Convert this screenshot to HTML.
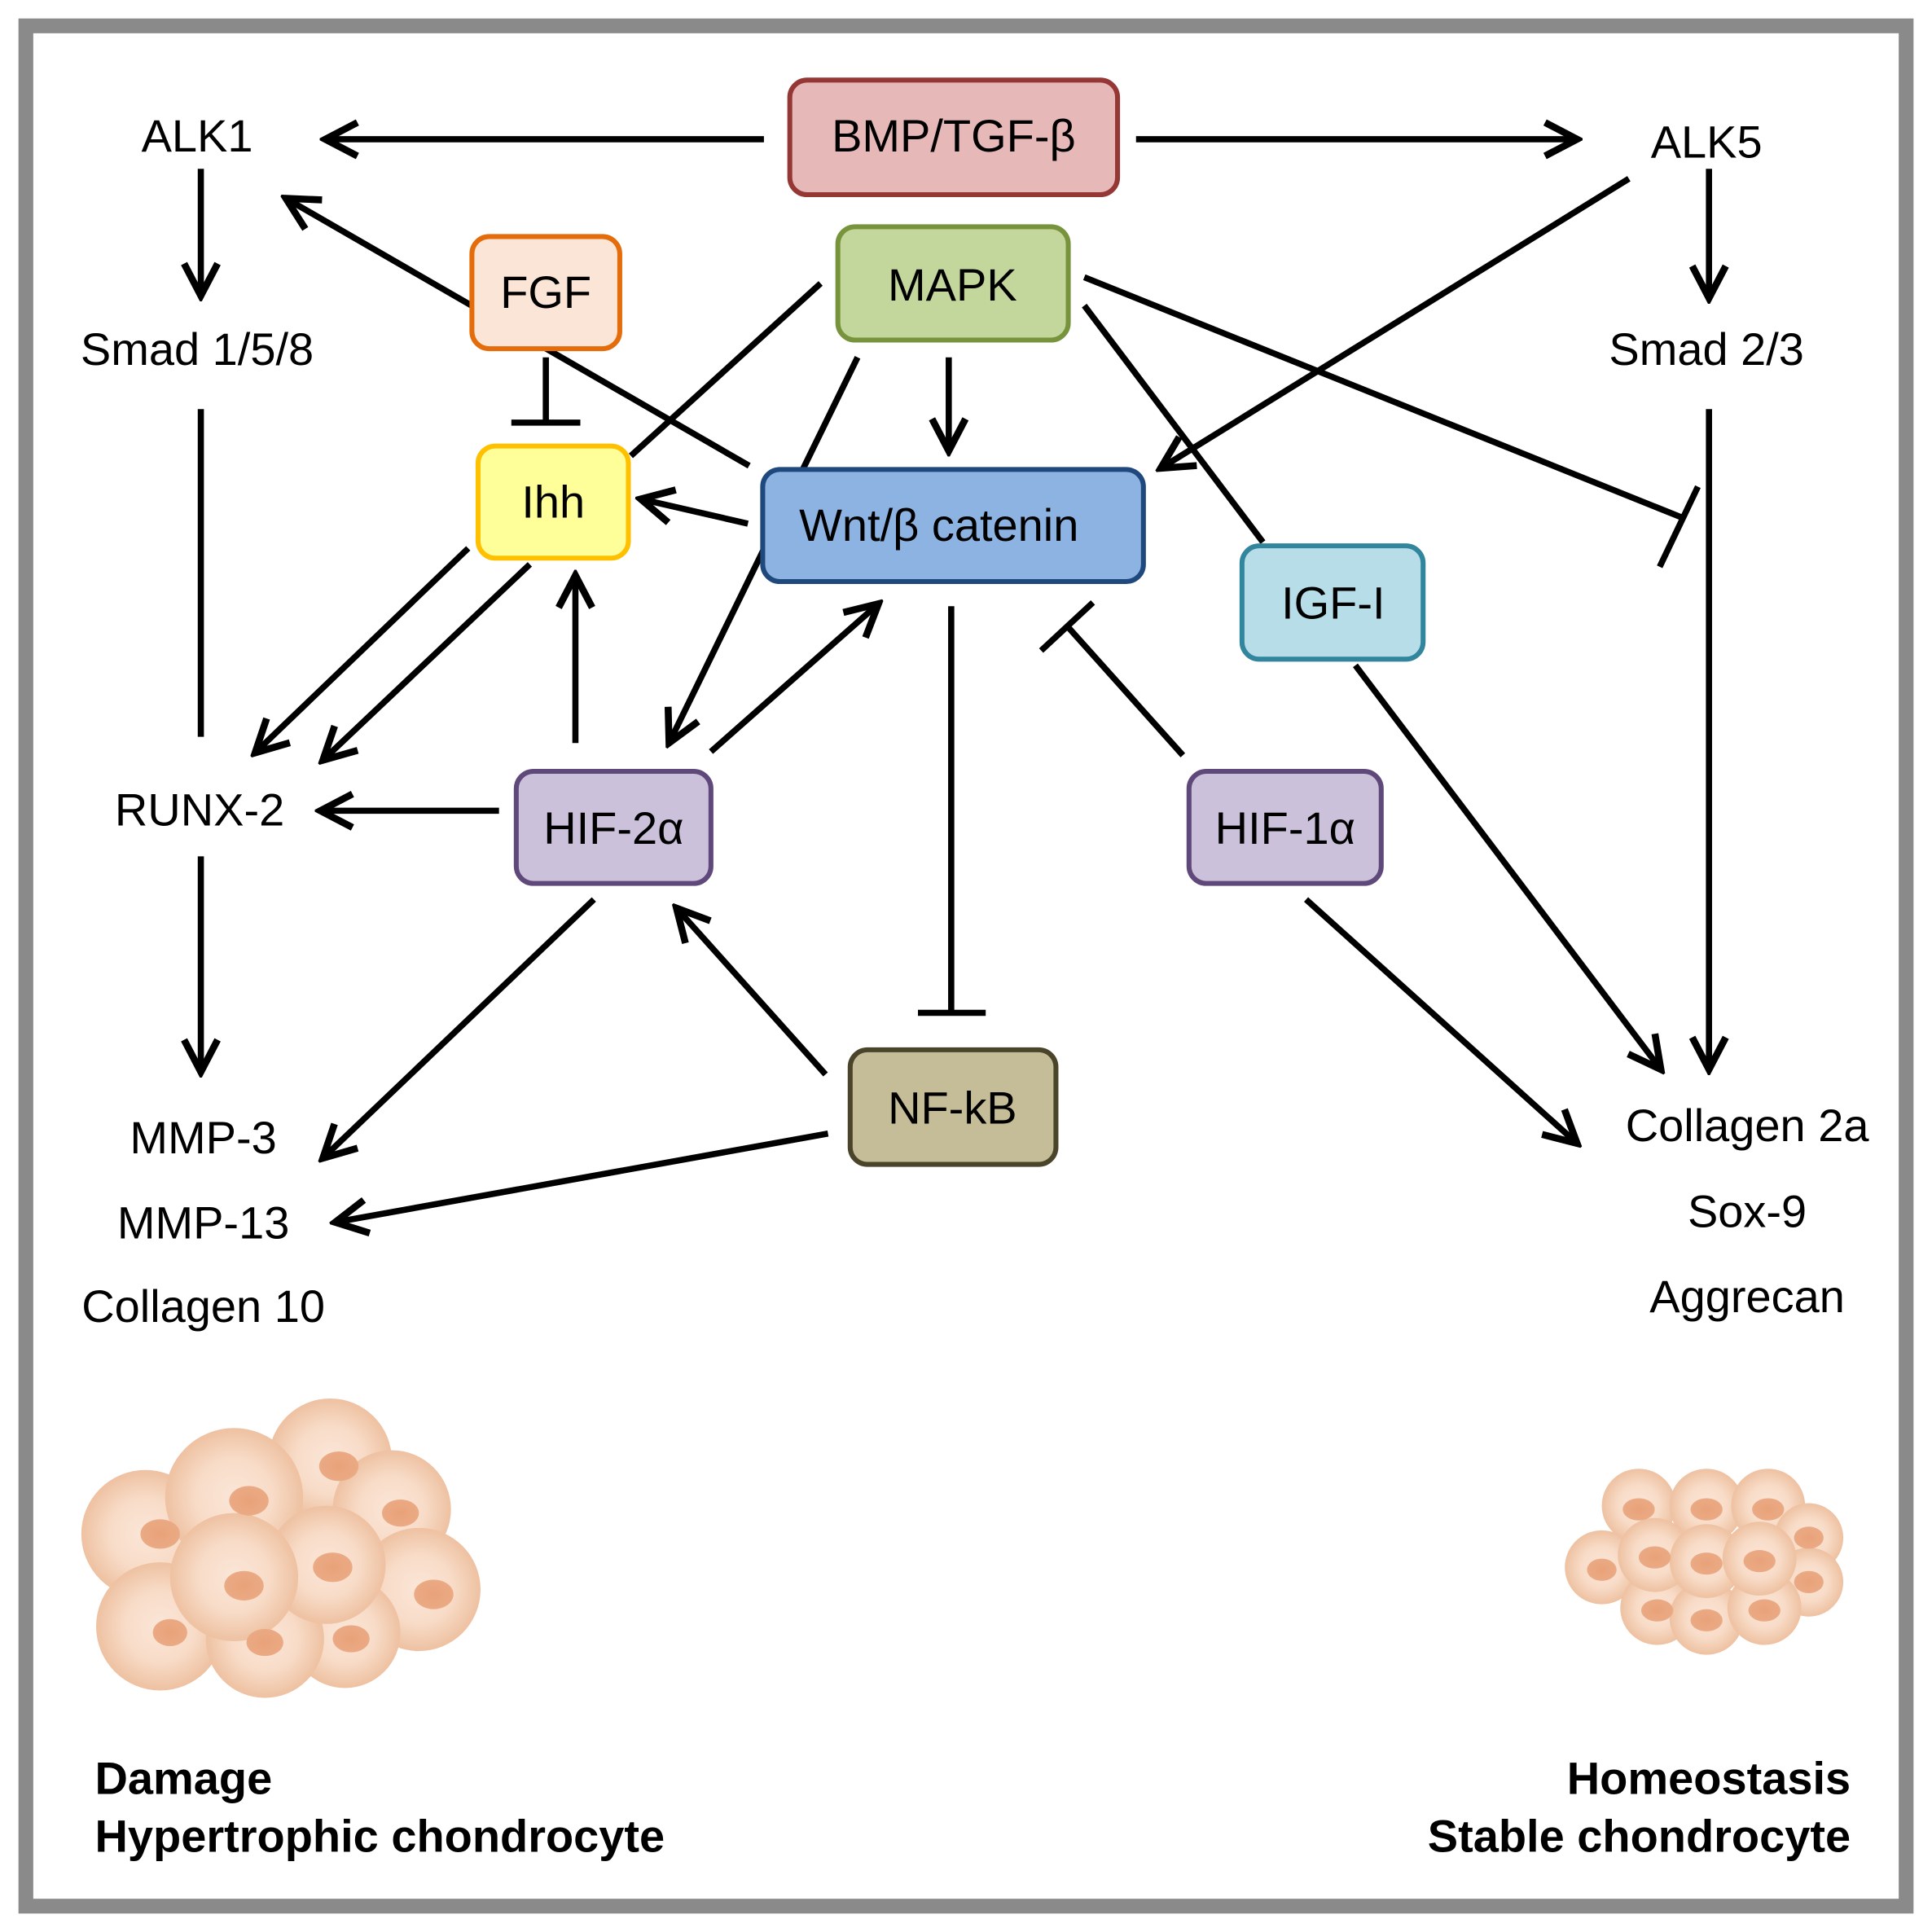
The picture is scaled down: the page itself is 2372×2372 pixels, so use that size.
<!DOCTYPE html>
<html><head><meta charset="utf-8"><style>html,body{margin:0;padding:0;background:#fff}svg{display:block}</style></head>
<body>
<svg width="2372" height="2372" viewBox="0 0 1568 1568" xmlns="http://www.w3.org/2000/svg" font-family="Liberation Sans, DejaVu Sans, sans-serif">
<defs>
<marker id="a" markerUnits="userSpaceOnUse" markerWidth="34" markerHeight="34" viewBox="0 0 30 30" refX="26" refY="15" orient="auto">
<path d="M3,3 L26,15 L3,27" fill="none" stroke="#000" stroke-width="5" stroke-linejoin="miter"/></marker>
<radialGradient id="c" cx="50%" cy="50%" r="50%"><stop offset="0" stop-color="#fbe6d8"/><stop offset="0.55" stop-color="#f8dcc8"/><stop offset="1" stop-color="#eec1a1"/></radialGradient>
<radialGradient id="n"><stop offset="0" stop-color="#e9a27a"/><stop offset="1" stop-color="#eaaa84"/></radialGradient>
</defs>
<rect x="0" y="0" width="1568" height="1568" fill="#fff"/>
<rect x="21" y="21" width="1526" height="1526" fill="#fff" stroke="#8a8a8a" stroke-width="12"/>
<g stroke="#000" stroke-width="5" fill="none">
<line x1="620" y1="113" x2="264" y2="113" marker-end="url(#a)"/>
<line x1="922" y1="113" x2="1280" y2="113" marker-end="url(#a)"/>
<line x1="163" y1="137" x2="163" y2="240" marker-end="url(#a)"/>
<line x1="1387" y1="137" x2="1387" y2="242" marker-end="url(#a)"/>
<line x1="163" y1="332" x2="163" y2="598"/>
<line x1="1387" y1="332" x2="1387" y2="868" marker-end="url(#a)"/>
<line x1="163" y1="695" x2="163" y2="870" marker-end="url(#a)"/>
<line x1="608" y1="378" x2="232" y2="161" marker-end="url(#a)"/>
<line x1="443" y1="290" x2="443" y2="343"/><line x1="415" y1="343" x2="471" y2="343"/>
<line x1="666" y1="230" x2="512" y2="370"/>
<line x1="770" y1="290" x2="770" y2="366" marker-end="url(#a)"/>
<line x1="696" y1="290" x2="543" y2="603" marker-end="url(#a)"/>
<line x1="880" y1="248" x2="1025" y2="440"/>
<line x1="880" y1="225" x2="1365" y2="420"/><line x1="1378" y1="395" x2="1347" y2="460"/>
<line x1="1322" y1="145" x2="942" y2="380" marker-end="url(#a)"/>
<line x1="607" y1="425" x2="520" y2="405" marker-end="url(#a)"/>
<line x1="380" y1="445" x2="207" y2="611" marker-end="url(#a)"/>
<line x1="430" y1="458" x2="262" y2="617" marker-end="url(#a)"/>
<line x1="467" y1="603" x2="467" y2="467" marker-end="url(#a)"/>
<line x1="577" y1="610" x2="713" y2="490" marker-end="url(#a)"/>
<line x1="405" y1="658" x2="260" y2="658" marker-end="url(#a)"/>
<line x1="772" y1="492" x2="772" y2="822"/><line x1="745" y1="822" x2="800" y2="822"/>
<line x1="960" y1="613" x2="866" y2="508"/><line x1="845" y1="528" x2="887" y2="489"/>
<line x1="1100" y1="540" x2="1348" y2="868" marker-end="url(#a)"/>
<line x1="1060" y1="730" x2="1280" y2="928" marker-end="url(#a)"/>
<line x1="482" y1="730" x2="262" y2="940" marker-end="url(#a)"/>
<line x1="670" y1="872" x2="549" y2="737" marker-end="url(#a)"/>
<line x1="672" y1="920" x2="272" y2="992" marker-end="url(#a)"/>
</g>
<g stroke-width="4">
<rect x="641" y="65" width="266" height="93" rx="14" fill="#e6b9b8" stroke="#953735"/>
<rect x="680" y="184" width="187" height="92" rx="14" fill="#c3d69b" stroke="#77933c"/>
<rect x="383" y="192" width="120" height="91" rx="14" fill="#fbe5d6" stroke="#e46c0a"/>
<rect x="388" y="362" width="122" height="91" rx="14" fill="#ffff99" stroke="#ffc000"/>
<rect x="619" y="381" width="309" height="91" rx="14" fill="#8db3e2" stroke="#1f497d"/>
<rect x="1008" y="443" width="147" height="92" rx="14" fill="#b7dde8" stroke="#31859c"/>
<rect x="419" y="626" width="158" height="91" rx="14" fill="#ccc1da" stroke="#5f497a"/>
<rect x="965" y="626" width="156" height="91" rx="14" fill="#ccc1da" stroke="#5f497a"/>
<rect x="690" y="852" width="167" height="93" rx="14" fill="#c4bd97" stroke="#4a452a"/>
</g>
<g font-size="37" text-anchor="middle" fill="#000">
<text x="774" y="123">BMP/TGF-β</text>
<text x="773" y="244">MAPK</text>
<text x="443" y="250">FGF</text>
<text x="449" y="420">Ihh</text>
<text x="762" y="439">Wnt/β catenin</text>
<text x="1082" y="502">IGF-I</text>
<text x="498" y="685">HIF-2α</text>
<text x="1043" y="685">HIF-1α</text>
<text x="773" y="912">NF-kB</text>
<text x="160" y="123">ALK1</text>
<text x="160" y="296">Smad 1/5/8</text>
<text x="162" y="670">RUNX-2</text>
<text x="165" y="936">MMP-3</text>
<text x="165" y="1005">MMP-13</text>
<text x="165" y="1073">Collagen 10</text>
<text x="1385" y="128">ALK5</text>
<text x="1385" y="296">Smad 2/3</text>
<text x="1418" y="926">Collagen 2a</text>
<text x="1418" y="996">Sox-9</text>
<text x="1418" y="1065">Aggrecan</text>
</g>
<g fill="url(#c)">
<circle cx="268" cy="1185" r="50"/><circle cx="318" cy="1225" r="48"/><circle cx="118" cy="1245" r="52"/>
<circle cx="190" cy="1215" r="56"/><circle cx="340" cy="1290" r="50"/><circle cx="130" cy="1320" r="52"/>
<circle cx="280" cy="1325" r="45"/><circle cx="215" cy="1330" r="48"/><circle cx="265" cy="1270" r="48"/>
<circle cx="190" cy="1280" r="52"/>
</g>
<g fill="url(#n)">
<ellipse cx="275" cy="1190" rx="16" ry="12"/><ellipse cx="325" cy="1228" rx="15" ry="11"/><ellipse cx="130" cy="1245" rx="16" ry="12"/>
<ellipse cx="202" cy="1218" rx="16" ry="12"/><ellipse cx="352" cy="1294" rx="16" ry="12"/><ellipse cx="138" cy="1325" rx="14" ry="11"/>
<ellipse cx="285" cy="1330" rx="15" ry="11"/><ellipse cx="215" cy="1333" rx="15" ry="11"/><ellipse cx="270" cy="1272" rx="16" ry="12"/>
<ellipse cx="198" cy="1287" rx="16" ry="12"/>
</g>
<g fill="url(#c)">
<circle cx="1330" cy="1222" r="30"/><circle cx="1385" cy="1222" r="30"/><circle cx="1435" cy="1222" r="30"/>
<circle cx="1300" cy="1272" r="30"/><circle cx="1468" cy="1248" r="28"/><circle cx="1468" cy="1284" r="28"/>
<circle cx="1345" cy="1305" r="30"/><circle cx="1385" cy="1313" r="30"/><circle cx="1432" cy="1305" r="30"/>
<circle cx="1343" cy="1262" r="30"/><circle cx="1385" cy="1267" r="30"/><circle cx="1428" cy="1265" r="30"/>
</g>
<g fill="url(#n)">
<ellipse cx="1330" cy="1225" rx="13" ry="9"/><ellipse cx="1385" cy="1225" rx="13" ry="9"/><ellipse cx="1435" cy="1225" rx="13" ry="9"/>
<ellipse cx="1300" cy="1274" rx="12" ry="9"/><ellipse cx="1468" cy="1248" rx="12" ry="9"/><ellipse cx="1468" cy="1284" rx="12" ry="9"/>
<ellipse cx="1345" cy="1307" rx="13" ry="9"/><ellipse cx="1385" cy="1315" rx="13" ry="9"/><ellipse cx="1432" cy="1307" rx="13" ry="9"/>
<ellipse cx="1343" cy="1264" rx="13" ry="9"/><ellipse cx="1385" cy="1269" rx="13" ry="9"/><ellipse cx="1428" cy="1267" rx="13" ry="9"/>
</g>
<g font-size="37" font-weight="bold" fill="#000">
<text x="77" y="1456">Damage</text>
<text x="77" y="1503">Hypertrophic chondrocyte</text>
<text x="1502" y="1456" text-anchor="end">Homeostasis</text>
<text x="1502" y="1503" text-anchor="end">Stable chondrocyte</text>
</g>
</svg>
</body></html>
